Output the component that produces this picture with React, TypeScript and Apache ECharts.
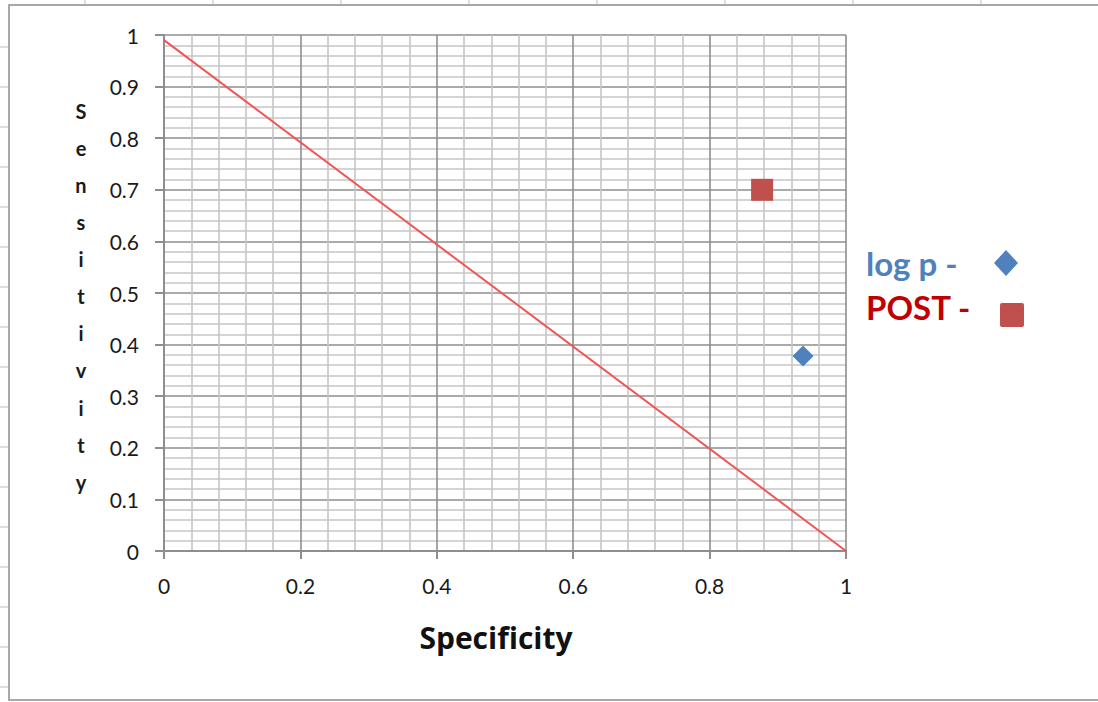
import React, { useEffect, useRef } from "react";
import * as echarts from "echarts";

// Reference diagonal (chance line) from (0, 0.99) to (1, 0)
const diagonalLine: [number, number][] = [
  [0, 0.99],
  [1, 0],
];
// Test results as [specificity, sensitivity]
const logPPoints: [number, number][] = [[0.937, 0.378]];
const postPoints: [number, number][] = [[0.877, 0.7]];

const legendLabels = ["log p -", "POST -"];
const yAxisTitle = "Sensitivity";
const xAxisTitle = "Specificity";

const FONT = "Lato, 'Open Sans', sans-serif";
const TITLE_FONT = "'Open Sans', Lato, sans-serif";
const MAJOR = "#8e8e8e";
const MINOR = "#c6c6c6";
const BLUE = "#4f81bd";
const RED_MARK = "#c0504d";
const RED_TEXT = "#c00000";

export default function App() {
  const ref = useRef<HTMLDivElement>(null);

  useEffect(() => {
    if (!ref.current) return;
    const chart = echarts.init(ref.current, null, { renderer: "svg" });

    const graphics: any[] = [];
    // spreadsheet cell lines peeking around the chart object
    for (let x = 85; x < 1098; x += 128) {
      graphics.push({
        type: "line",
        silent: true,
        shape: { x1: x, y1: 0, x2: x, y2: 5 },
        style: { stroke: "#d4d4d4", lineWidth: 1.5 },
      });
    }
    for (let y = 47; y < 702; y += 40) {
      graphics.push({
        type: "line",
        silent: true,
        shape: { x1: 0, y1: y, x2: 8, y2: y },
        style: { stroke: "#d4d4d4", lineWidth: 1.5 },
      });
    }
    // chart object frame
    graphics.push({
      type: "rect",
      silent: true,
      shape: { x: 9, y: 5, width: 1100, height: 695 },
      style: { fill: "none", stroke: "#a8a8a8", lineWidth: 2 },
    });
    // stacked vertical axis title
    yAxisTitle.split("").forEach((ch, i) => {
      graphics.push({
        type: "text",
        x: 81,
        y: 110.7 + i * 37.1,
        style: {
          text: ch,
          fontFamily: FONT,
          fontWeight: "bold",
          fontSize: 20,
          fill: "#1a1a1a",
          align: "center",
          verticalAlign: "middle",
        },
      });
    });
    // legend entries with markers on the right of the labels
    graphics.push({
      type: "text",
      x: 866,
      y: 263,
      style: {
        text: legendLabels[0],
        fontFamily: FONT,
        fontWeight: "bold",
        fontSize: 33,
        fill: BLUE,
        align: "left",
        verticalAlign: "middle",
      },
    });
    graphics.push({
      type: "text",
      x: 866,
      y: 307,
      style: {
        text: legendLabels[1],
        fontFamily: FONT,
        fontWeight: "bold",
        fontSize: 33,
        fill: RED_TEXT,
        align: "left",
        verticalAlign: "middle",
      },
    });
    graphics.push({
      type: "polygon",
      shape: {
        points: [
          [1006, 250],
          [1018, 263],
          [1006, 276],
          [994, 263],
        ],
      },
      style: { fill: BLUE },
    });
    graphics.push({
      type: "rect",
      shape: { x: 1000, y: 303, width: 24, height: 24, r: 2 },
      style: { fill: RED_MARK },
    });

    chart.setOption({
      animation: false,
      backgroundColor: "#ffffff",
      grid: { left: 164, right: 252, top: 35, bottom: 151, containLabel: false },
      xAxis: {
        type: "value",
        min: 0,
        max: 1,
        interval: 0.2,
        name: xAxisTitle,
        nameLocation: "middle",
        nameGap: 71,
        nameTextStyle: {
          fontFamily: TITLE_FONT,
          fontWeight: "bold",
          fontSize: 30,
          color: "#111",
          padding: [0, 18, 0, 0],
        },
        axisLine: { show: true, lineStyle: { color: MAJOR, width: 2 } },
        axisTick: { show: true, length: 8, lineStyle: { color: MAJOR, width: 2 } },
        axisLabel: { fontFamily: FONT, fontSize: 21, color: "#1a1a1a", margin: 24 },
        splitLine: { show: true, lineStyle: { color: MAJOR, width: 1.6 } },
        minorTick: { show: false, splitNumber: 5 },
        minorSplitLine: { show: true, lineStyle: { color: MINOR, width: 1.6 } },
      },
      yAxis: {
        type: "value",
        min: 0,
        max: 1,
        interval: 0.1,
        axisLine: { show: true, lineStyle: { color: MAJOR, width: 2 } },
        axisTick: { show: true, length: 9, lineStyle: { color: MAJOR, width: 2 } },
        axisLabel: { fontFamily: FONT, fontSize: 21, color: "#1a1a1a", margin: 25 },
        splitLine: { show: true, lineStyle: { color: MAJOR, width: 1.6 } },
        minorTick: { show: false, splitNumber: 5 },
        minorSplitLine: { show: true, lineStyle: { color: MINOR, width: 1.6 } },
      },
      series: [
        {
          name: "diagonal",
          type: "line",
          data: diagonalLine,
          symbol: "none",
          lineStyle: { color: "#f25555", width: 2 },
          z: 3,
        },
        {
          name: legendLabels[0],
          type: "scatter",
          data: logPPoints,
          symbol: "diamond",
          symbolSize: [21, 21],
          itemStyle: { color: BLUE, opacity: 1 },
          z: 4,
        },
        {
          name: legendLabels[1],
          type: "scatter",
          data: postPoints,
          symbol: "rect",
          symbolSize: 22,
          itemStyle: { color: RED_MARK, opacity: 1 },
          z: 4,
        },
      ],
      graphic: graphics,
    });

    return () => chart.dispose();
  }, []);

  return (
    <div
      ref={ref}
      style={{ position: "absolute", left: 0, top: 0, width: 1098, height: 702 }}
    />
  );
}
